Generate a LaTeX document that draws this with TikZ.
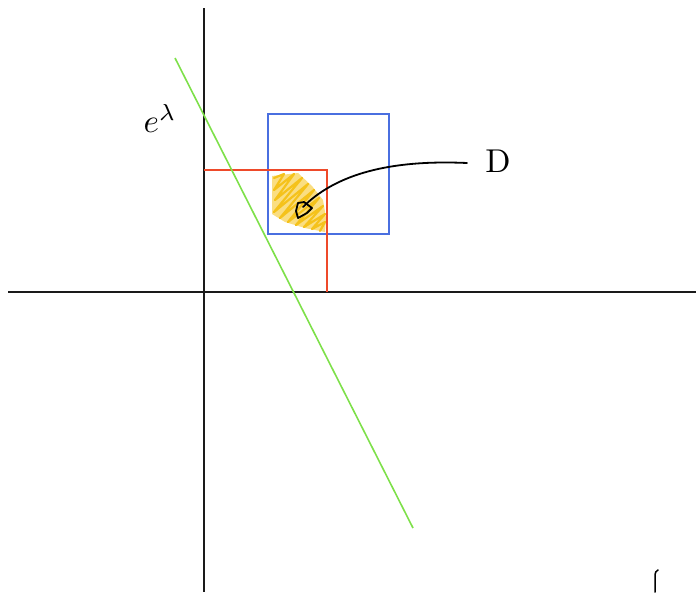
\documentclass[tikz,border=0pt]{standalone}
\usepackage{tikz}
\usepackage{graphicx}
\definecolor{axisc}{HTML}{1A1A1A}
\definecolor{greenc}{HTML}{7EE04A}
\definecolor{bluec}{HTML}{4A6FE0}
\definecolor{redc}{HTML}{EE4A2A}
\definecolor{yellowc}{HTML}{F5C21B}
\tikzset{
  axis/.style={draw=axisc, line width=1.6pt},
  gline/.style={draw=greenc, line width=1.6pt},
  bbox/.style={draw=bluec, line width=1.6pt},
  rline/.style={draw=redc, line width=1.6pt},
  scrib/.style={draw=yellowc, line width=2.2pt, line join=round, line cap=round},
  pen/.style={draw=black, line width=1.8pt, line cap=round, line join=round},
  lab/.style={inner sep=0pt}
}
\begin{document}
\begin{tikzpicture}[x=1pt,y=-1pt]
\useasboundingbox (0,0) rectangle (696,592);
% axes
\draw[axis] (204,8) -- (204,592);
\draw[axis] (8,292) -- (696,292);
% yellow region
\fill[yellowc, opacity=0.55] (272,176) -- (298,173) -- (312,186) -- (323,200) -- (326,218) -- (325,232) -- (305,228) -- (285,222) -- (272,214) -- cycle;
\draw[scrib] (274,178) -- (284,174) -- (274,190) -- (294,174) -- (275,200) -- (302,178) -- (274,212) -- (308,184) -- (280,218) -- (314,190) -- (288,222) -- (319,198) -- (296,225) -- (323,206) -- (304,227) -- (325,214) -- (312,229) -- (325,222) -- (320,231);
% blue square
\draw[bbox] (268,114) rectangle (389,234);
% red lines
\draw[rline] (204,170) -- (327,170) -- (327,292);
% green line
\draw[gline] (175,58) -- (413,528);
% labels
\node[lab] (D) at (498,161) {\scalebox{3.3}{$\mathrm{D}$}};
\node[lab] (el) at (160,118) {\scalebox{3.3}{$e^{\lambda}$}};
% arrow
\coordinate (start) at (467,163);
\coordinate (tip) at (303,207);
\draw[pen] (start) .. controls (400,160) and (340,170) .. (tip);
\draw[pen] (298,203) -- (304,202) -- (312,208) -- (307,213) -- (298,218) -- (296,211) -- cycle;
% small mark
\draw[pen, line width=1.5pt] (655,592) -- (655,577) .. controls (655,572) and (656,571) .. (658,570);
\end{tikzpicture}
\end{document}
